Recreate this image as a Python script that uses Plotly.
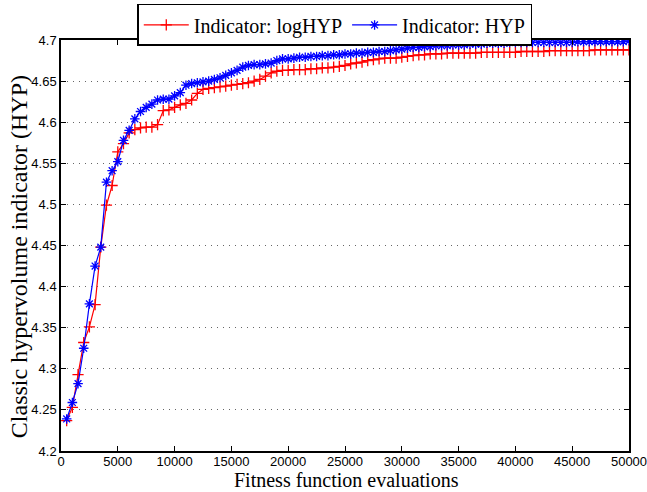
import plotly.graph_objects as go

evals = list(range(500, 50001, 500))

hyp = [
    4.239, 4.259, 4.282, 4.325, 4.379, 4.425, 4.448, 4.527, 4.541, 4.552,
    4.578, 4.590, 4.604, 4.613, 4.618, 4.622, 4.627, 4.628, 4.628, 4.632,
    4.636, 4.645, 4.647, 4.648, 4.649, 4.650, 4.652, 4.654, 4.657, 4.660,
    4.663, 4.667, 4.669, 4.670, 4.670, 4.671, 4.672, 4.675, 4.677, 4.677,
    4.678, 4.679, 4.679, 4.680, 4.680, 4.681, 4.681, 4.682, 4.682, 4.683,
    4.683, 4.684, 4.684, 4.685, 4.685, 4.686, 4.686, 4.687, 4.688, 4.689,
    4.690, 4.691, 4.691, 4.692, 4.692, 4.693, 4.693, 4.693, 4.694, 4.694,
    4.694, 4.695, 4.695, 4.695, 4.696, 4.696, 4.696, 4.696, 4.697, 4.697,
    4.697, 4.697, 4.697, 4.697, 4.697, 4.697, 4.697, 4.697, 4.697, 4.697,
    4.698, 4.698, 4.698, 4.698, 4.698, 4.698, 4.698, 4.698, 4.698, 4.699,
]

loghyp = [
    4.237, 4.253, 4.293, 4.332, 4.351, 4.378, 4.448, 4.499, 4.523, 4.564,
    4.574, 4.587, 4.591, 4.593, 4.594, 4.594, 4.597, 4.614, 4.615, 4.618,
    4.621, 4.623, 4.627, 4.635, 4.640, 4.641, 4.642, 4.643, 4.644, 4.645,
    4.646, 4.647, 4.648, 4.650, 4.652, 4.656, 4.660, 4.662, 4.663, 4.663,
    4.664, 4.664, 4.664, 4.665, 4.665, 4.666, 4.666, 4.667, 4.668, 4.669,
    4.671, 4.672, 4.673, 4.675, 4.676, 4.677, 4.678, 4.678, 4.678, 4.679,
    4.680, 4.681, 4.682, 4.682, 4.683, 4.683, 4.683, 4.684, 4.684, 4.684,
    4.684, 4.684, 4.684, 4.685, 4.685, 4.685, 4.685, 4.685, 4.685, 4.685,
    4.686, 4.686, 4.686, 4.686, 4.686, 4.687, 4.687, 4.687, 4.687, 4.687,
    4.687, 4.687, 4.687, 4.688, 4.688, 4.688, 4.688, 4.688, 4.688, 4.688,
]

x_ticks = [0, 5000, 10000, 15000, 20000, 25000, 30000, 35000, 40000, 45000, 50000]
y_ticks = [4.2, 4.25, 4.3, 4.35, 4.4, 4.45, 4.5, 4.55, 4.6, 4.65, 4.7]
y_tick_labels = ["4.2", "4.25", "4.3", "4.35", "4.4", "4.45", "4.5", "4.55", "4.6", "4.65", "4.7"]
x_title = "Fitness function evaluations"
y_title = "Classic hypervolume indicator (HYP)"

fig = go.Figure()
fig.add_trace(go.Scatter(
    x=evals, y=loghyp, mode="lines+markers", name="Indicator: logHYP",
    line=dict(color="#ff0000", width=1.2),
    marker=dict(symbol="cross-thin", size=8, line=dict(color="#ff0000", width=1.3)),
))
fig.add_trace(go.Scatter(
    x=evals, y=hyp, mode="lines+markers", name="Indicator: HYP",
    line=dict(color="#0000ff", width=1.2),
    marker=dict(symbol="asterisk", size=8, line=dict(color="#0000ff", width=1.3)),
))

serif = "'Liberation Serif', 'Times New Roman', serif"
sans = "'Liberation Sans', Arial, sans-serif"

fig.update_layout(
    width=647, height=492,
    margin=dict(l=61, r=18, t=40, b=41, autoexpand=False),
    paper_bgcolor="white", plot_bgcolor="white",
    showlegend=True,
    legend=dict(
        orientation="h", x=0.482, xanchor="center",
        yref="container", y=0.992, yanchor="top",
        bordercolor="black", borderwidth=1.5, bgcolor="white",
        font=dict(family=serif, size=20, color="black"),
        itemwidth=45, tracegroupgap=0,
    ),
    xaxis=dict(
        range=[0, 50000], tickvals=x_ticks, ticktext=[str(v) for v in x_ticks],
        showgrid=False, zeroline=False, automargin=False,
        ticklabeloverflow="allow", ticklabelstandoff=-2,
        showline=True, linecolor="black", linewidth=1.5, mirror="ticks",
        ticks="inside", ticklen=5, tickcolor="black",
        tickfont=dict(family=sans, size=13, color="black"),
    ),
    yaxis=dict(
        range=[4.2, 4.7], tickvals=y_ticks, ticktext=y_tick_labels,
        showgrid=True, gridcolor="#666666", griddash="1px,5px", gridwidth=1,
        zeroline=False, automargin=False,
        showline=True, linecolor="black", linewidth=1.5, mirror="ticks",
        ticks="inside", ticklen=5, tickcolor="black",
        tickfont=dict(family=sans, size=13, color="black"),
    ),
    annotations=[
        dict(text=x_title, xref="paper", yref="paper", x=0.503, y=-0.0717,
             xanchor="center", yanchor="middle", showarrow=False, borderpad=0,
             font=dict(family=serif, size=20, color="black")),
        dict(text=y_title, xref="paper", yref="paper", x=-0.074, y=0.474,
             xanchor="center", yanchor="middle", showarrow=False, textangle=-90,
             font=dict(family=serif, size=24, color="black")),
    ],
)

fig.write_html(
    "out.html",
    config={"displayModeBar": False},
    post_script="document.body.style.margin='0';document.body.style.overflow='hidden';",
)
